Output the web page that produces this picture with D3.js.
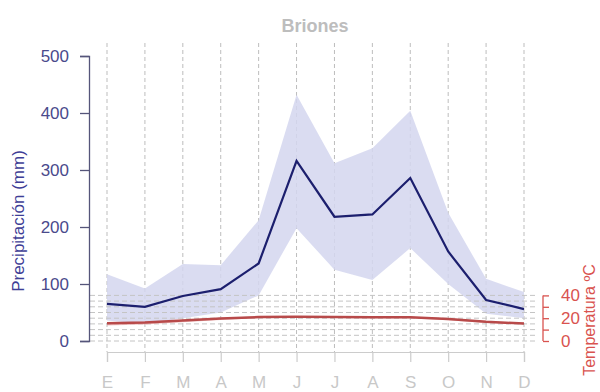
<!DOCTYPE html>
<html>
<head>
<meta charset="utf-8">
<script src="https://cdn.jsdelivr.net/npm/d3@7"></script>
<style>
  body { margin: 0; background: #fff; }
  text { font-family: "Liberation Sans", Arial, sans-serif; }
</style>
</head>
<body>
<script>
const months = ['E', 'F', 'M', 'A', 'M', 'J', 'J', 'A', 'S', 'O', 'N', 'D'];
const precipMean = [65, 60, 79, 91, 136, 316, 218, 222, 286, 157, 72, 56];
const precipHigh = [117, 92, 135, 133, 212, 432, 312, 338, 404, 225, 109, 86];
const precipLow = [36, 30, 40, 50, 80, 198, 125, 107, 163, 100, 48, 40];
const tempMean = [15.5, 16.3, 18, 19.8, 21, 21.3, 21, 20.8, 20.8, 19.3, 16.8, 15.3];
const tempLow = [13.5, 14.5, 16.5, 18.5, 20, 20.5, 20.2, 20, 20, 18.3, 15.8, 14.5];
const tempHigh = [16.2, 17, 18.6, 20.4, 21.6, 21.8, 21.6, 21.3, 21.3, 20, 17.6, 16];
const precipTicks = [0, 100, 200, 300, 400, 500];
const tempTicks = [0, 10, 20, 30, 40];
const tempLabels = [0, 20, 40];
const tempGrid = [0, 5, 10, 15, 20, 25, 30, 35, 40];

const width = 600, height = 392;
const svg = d3.select('body').append('svg')
  .attr('width', width)
  .attr('height', height);

const x = d3.scalePoint().domain(d3.range(12)).range([107, 524]);
const y = d3.scaleLinear().domain([0, 500]).range([341, 56]);
// temperature uses P = 2T, so 1 degree = 2 mm
const yT = d3.scaleLinear().domain([0, 250]).range([341, 56]);

// vertical month grid
svg.append('g').selectAll('line')
  .data(d3.range(12))
  .enter().append('line')
  .attr('x1', d => x(d)).attr('x2', d => x(d))
  .attr('y1', 43).attr('y2', 352)
  .attr('stroke', '#bdbdbd')
  .attr('stroke-dasharray', '4,3')
  .attr('stroke-width', 1);

// precipitation band
const area = d3.area()
  .x((d, i) => x(i))
  .y0((d, i) => y(precipLow[i]))
  .y1((d, i) => y(precipHigh[i]));
svg.append('path')
  .datum(precipMean)
  .attr('d', area)
  .attr('fill', '#d4d6ee')
  .attr('fill-opacity', 0.85);

// horizontal temperature grid
svg.append('g').selectAll('line')
  .data(tempGrid)
  .enter().append('line')
  .attr('x1', 90).attr('x2', 535)
  .attr('y1', d => yT(d)).attr('y2', d => yT(d))
  .attr('stroke', '#c4c4c4')
  .attr('stroke-dasharray', '5,3')
  .attr('stroke-width', 1);

// temperature band and line
const tArea = d3.area()
  .x((d, i) => x(i))
  .y0((d, i) => yT(tempLow[i]))
  .y1((d, i) => yT(tempHigh[i]));
svg.append('path')
  .datum(tempMean)
  .attr('d', tArea)
  .attr('fill', '#e8a0a0')
  .attr('fill-opacity', 0.6);

svg.append('path')
  .datum(tempMean)
  .attr('d', d3.line().x((d, i) => x(i)).y(d => yT(d)))
  .attr('fill', 'none')
  .attr('stroke', '#b84a4a')
  .attr('stroke-width', 2.5);

// precipitation line
svg.append('path')
  .datum(precipMean)
  .attr('d', d3.line().x((d, i) => x(i)).y(d => y(d)))
  .attr('fill', 'none')
  .attr('stroke', '#1c1f6e')
  .attr('stroke-width', 2.2);

// left axis
const leftAxis = svg.append('g')
  .attr('transform', 'translate(89,0)')
  .call(d3.axisLeft(y).tickValues(precipTicks).tickSize(9).tickPadding(11));
leftAxis.select('.domain').attr('stroke', '#55557a').attr('stroke-width', 1.3);
leftAxis.selectAll('.tick line').attr('stroke', '#55557a').attr('stroke-width', 1.3);
leftAxis.selectAll('.tick text')
  .attr('fill', '#4a4a8c')
  .attr('font-size', 17)
  .attr('font-family', '"Liberation Sans", Arial, sans-serif');

// right temperature axis (only spans 0-40)
const rightAxis = svg.append('g')
  .attr('transform', 'translate(543,0)')
  .call(d3.axisRight(yT).tickValues(tempTicks).tickSize(6)
    .tickFormat(d => tempLabels.includes(d) ? d : '').tickPadding(12));
rightAxis.select('.domain').remove();
rightAxis.append('line')
  .attr('y1', yT(0)).attr('y2', yT(40))
  .attr('stroke', '#d9534f').attr('stroke-width', 1.3);
rightAxis.selectAll('.tick line').attr('stroke', '#d9534f').attr('stroke-width', 1.3);
rightAxis.selectAll('.tick text')
  .attr('fill', '#d9534f')
  .attr('font-size', 17)
  .attr('font-family', '"Liberation Sans", Arial, sans-serif');

// bottom axis
const bottomAxis = svg.append('g')
  .attr('transform', 'translate(0,352)')
  .call(d3.axisBottom(x).tickSize(10).tickPadding(14).tickFormat(i => months[i]));
bottomAxis.select('.domain').attr('stroke', '#cccccc').attr('stroke-width', 1.2);
bottomAxis.selectAll('.tick line').attr('stroke', '#cccccc').attr('stroke-width', 1.2);
bottomAxis.selectAll('.tick text')
  .attr('fill', '#c8c8c8')
  .attr('font-size', 17)
  .attr('font-family', '"Liberation Sans", Arial, sans-serif');

// title
svg.append('text')
  .attr('x', 315).attr('y', 32)
  .attr('text-anchor', 'middle')
  .attr('font-size', 18)
  .attr('font-weight', 'bold')
  .attr('fill', '#bdbdbd')
  .text('Briones');

// y labels
svg.append('text')
  .attr('transform', 'translate(24,221) rotate(-90)')
  .attr('text-anchor', 'middle')
  .attr('font-size', 17)
  .attr('fill', '#3e3e96')
  .text('Precipitación (mm)');

svg.append('text')
  .attr('transform', 'translate(595,320) rotate(-90)')
  .attr('text-anchor', 'middle')
  .attr('font-size', 16)
  .attr('fill', '#d9534f')
  .text('Temperatura ºC');
</script>
</body>
</html>
